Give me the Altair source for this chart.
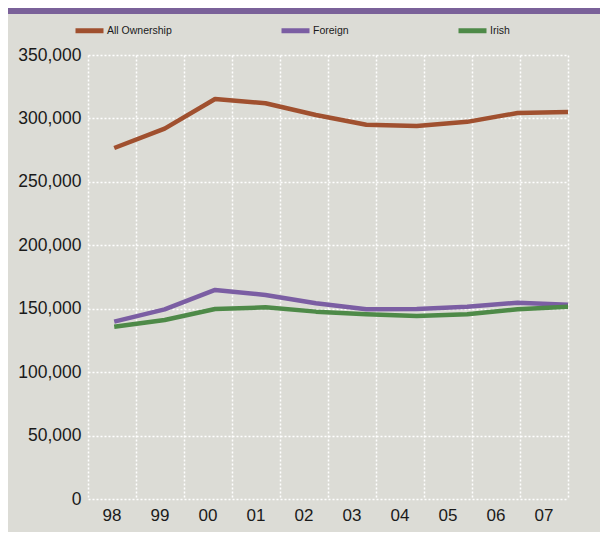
import altair as alt
import pandas as pd

years = ["98", "99", "00", "01", "02", "03", "04", "05", "06", "07"]
series_names = ["All Ownership", "Foreign", "Irish"]
all_ownership = [276700, 292000, 315300, 312000, 302700, 295000, 294000, 297300, 304300, 305000]
foreign = [139800, 149500, 164800, 160800, 154300, 149500, 149800, 151600, 154700, 153200]
irish = [135800, 141100, 149800, 151100, 147700, 145600, 144300, 145600, 149500, 151600]
y_ticks = [0, 50000, 100000, 150000, 200000, 250000, 300000, 350000]
colors = ["#a0502f", "#7b5ea3", "#4e8a48"]

rows = []
for name, vals in zip(series_names, [all_ownership, foreign, irish]):
    for i, (yr, v) in enumerate(zip(years, vals)):
        rows.append({"series": name, "year": yr, "idx": i, "value": v})
df = pd.DataFrame(rows)

FONT = "Liberation Sans"
TXT = "#1a1a1a"
GRID = dict(gridColor="white", gridDash=[2, 2], gridWidth=1.5, gridOpacity=1)

base = alt.Chart(df)

label_layer = base.mark_point(opacity=0).encode(
    x=alt.X("year:O", sort=years,
            scale=alt.Scale(type="band", paddingInner=0, paddingOuter=0),
            axis=alt.Axis(title=None, labelAngle=0, ticks=False, domain=False, grid=False,
                          labelPadding=8, labelFontSize=17, labelFont=FONT, labelColor=TXT,
                          orient="bottom"))
)

grid_layer = base.mark_point(opacity=0).encode(
    x=alt.X("idx:Q", scale=alt.Scale(domain=[0, 10], nice=False, zero=False),
            axis=alt.Axis(orient="top", values=list(range(11)), labels=False, ticks=False,
                          domain=False, grid=True, title=None, **GRID))
)

lines = base.mark_line(strokeWidth=4.5, strokeJoin="round").encode(
    x=alt.X("idx:Q", scale=alt.Scale(domain=[-0.52, 9.0], nice=False, zero=False), axis=None),
    y=alt.Y("value:Q", scale=alt.Scale(domain=[0, 350000], nice=False, zero=True),
            axis=alt.Axis(values=y_ticks, format=",.0f", title=None, ticks=False, domain=False,
                          labelPadding=7, labelFontSize=17.5, labelFont=FONT, labelColor=TXT,
                          grid=True, **GRID)),
    color=alt.Color("series:N", sort=series_names,
                    scale=alt.Scale(domain=series_names, range=colors),
                    legend=alt.Legend(title=None, orient="none", legendX=-15, legendY=-41,
                                      direction="horizontal", symbolType="stroke",
                                      symbolSize=784, symbolStrokeWidth=5,
                                      labelFontSize=10.5, labelFont=FONT, labelColor=TXT,
                                      columnPadding=99, labelOffset=1)),
)

bar = alt.Chart(pd.DataFrame({"a": [0]})).mark_rect(color="#7a6199").encode(
    x=alt.value(-80), x2=alt.value(512), y=alt.value(-47), y2=alt.value(-41)
)

chart = alt.layer(grid_layer, label_layer, lines, bar).resolve_scale(
    x="independent"
).properties(
    width=480, height=444,
    autosize=alt.AutoSizeParams(type="none"),
    padding={"left": 80, "top": 47, "right": 32, "bottom": 33},
    background="#dcdcd6",
).configure_view(stroke=None)

chart.save("out.html", embed_options={"renderer": "svg", "actions": False})
